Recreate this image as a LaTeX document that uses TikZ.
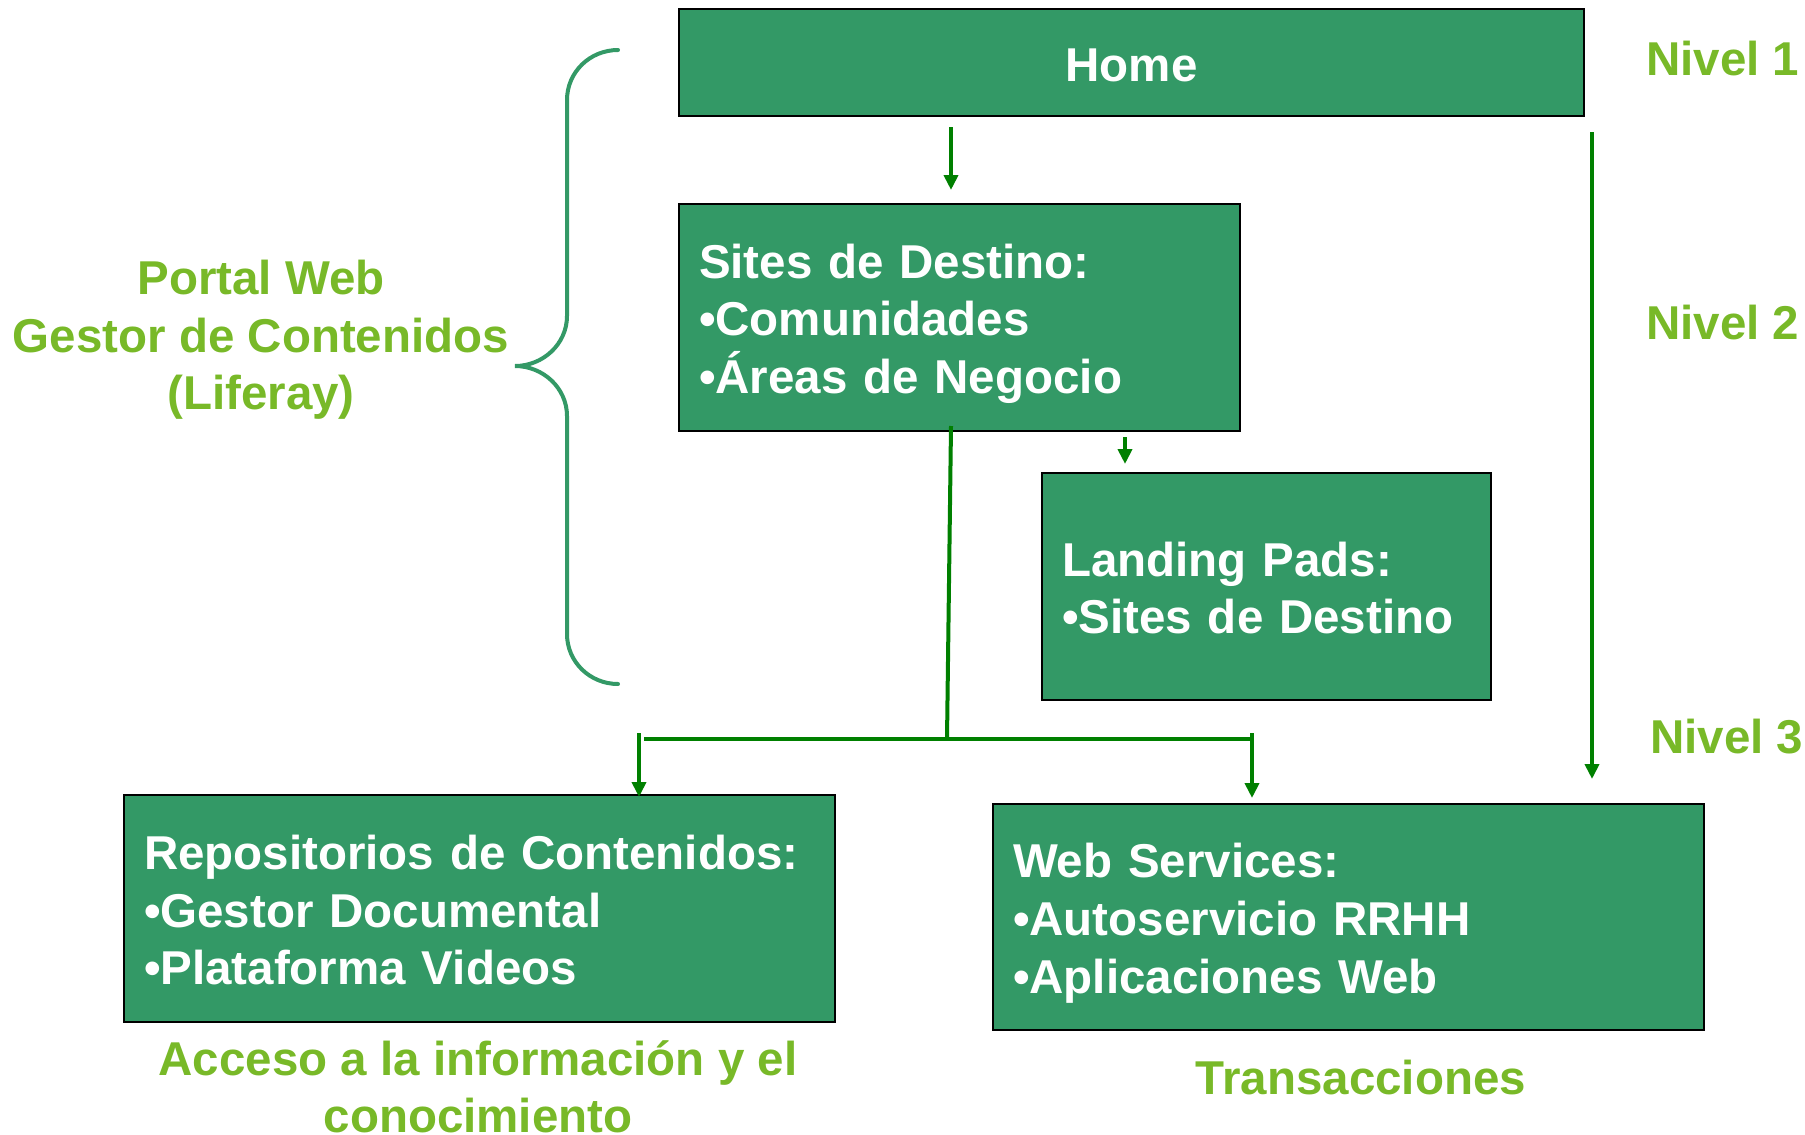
\documentclass[tikz,border=0pt]{standalone}
\usepackage{fontspec}
\setmainfont{Liberation Sans}
\usetikzlibrary{arrows.meta,calc}
\definecolor{boxgreen}{RGB}{51,153,102}
\definecolor{arrgreen}{RGB}{0,128,0}
\definecolor{lblgreen}{RGB}{120,185,40}
\newcommand\lnstrut{\rule[-10pt]{0pt}{57pt}}
\begin{document}
\begin{tikzpicture}[x=1pt,y=-1pt,
  bigfont/.style={font=\fontsize{47.5}{57.6}\selectfont\bfseries},
  gbox/.style={draw=black,line width=2pt,fill=boxgreen,text=white,bigfont,
    inner xsep=20pt,inner ysep=0pt,outer sep=0pt,anchor=north west,align=left},
  lbl/.style={text=lblgreen,bigfont,inner sep=0pt,align=center},
  arr/.style={draw=arrgreen,line width=4pt,-{Triangle[length=15pt,width=14pt]}},
  conn/.style={draw=arrgreen,line width=4pt},
  brace/.style={draw=boxgreen,line width=4pt,line cap=round}]
\useasboundingbox (0,0) rectangle (1805,1135);
% boxes
\node[gbox,align=center,text width=865pt,minimum height=107pt] (home) at (679,9) {\lnstrut Home};
\node[gbox,text width=521pt,minimum height=227pt] (sites) at (679,204)
  {\lnstrut Sites de Destino:\\•Comunidades\\\lnstrut•Áreas de Negocio};
\node[gbox,text width=409pt,minimum height=227pt] (landing) at (1042,473)
  {\lnstrut Landing Pads:\\\lnstrut•Sites de Destino};
\node[gbox,text width=671pt,minimum height=227pt] (repos) at (124,795)
  {\lnstrut Repositorios de Contenidos:\\•Gestor Documental\\\lnstrut•Plataforma Videos};
\node[gbox,text width=671pt,minimum height=226pt] (web) at (993,804)
  {\lnstrut Web Services:\\•Autoservicio RRHH\\\lnstrut•Aplicaciones Web};
% labels
\node[lbl] (portal) at (261,340) {Portal Web\\Gestor de Contenidos\\(Liferay)};
\node[lbl,anchor=west] (n1) at (1646,59) {Nivel 1};
\node[lbl,anchor=west] (n2) at (1646,323) {Nivel 2};
\node[lbl,anchor=west] (n3) at (1650,737) {Nivel 3};
\node[lbl] (acceso) at (478,1087) {Acceso a la información y el\\conocimiento};
\node[lbl] (trans) at (1361,1078) {Transacciones};
% brace
\draw[brace] (618,50) .. controls (590,50) and (567,72) .. (567,100)
  -- (567,316) .. controls (567,344) and (543,366) .. (515,366)
  .. controls (543,366) and (567,388) .. (567,416)
  -- (567,634) .. controls (567,662) and (590,684) .. (618,684);
% connector x positions
\coordinate (xa) at (951,0);
\coordinate (xr) at (1592,0);
\coordinate (xl) at (1125,0);
\coordinate (xb) at (947,0);
\coordinate (xL) at (639,0);
\coordinate (xR) at (1252,0);
\coordinate (yj) at (0,739);
% arrows
\draw[arr] ($(home.south -| xa)+(0,11)$) -- ($(sites.north -| xa)+(0,-14)$);
\draw[arr] ($(home.south -| xr)+(0,16)$) -- ($(web.north -| xr)+(0,-25)$);
\draw[arr] ($(sites.south -| xl)+(0,6)$) -- ($(landing.north -| xl)+(0,-9)$);
\coordinate (junction) at (xb |- yj);
\draw[conn] ($(sites.south -| xa)+(0,-5)$) -- (junction);
\draw[conn] ($(yj -| xL)+(5,0)$) -- ($(yj -| xR)+(2,0)$);
\draw[arr] ($(yj -| xL)+(0,-6)$) -- ($(repos.north -| xL)+(0,2)$);
\draw[arr] ($(yj -| xR)+(0,-6)$) -- ($(web.north -| xR)+(0,-6)$);
\end{tikzpicture}
\end{document}
